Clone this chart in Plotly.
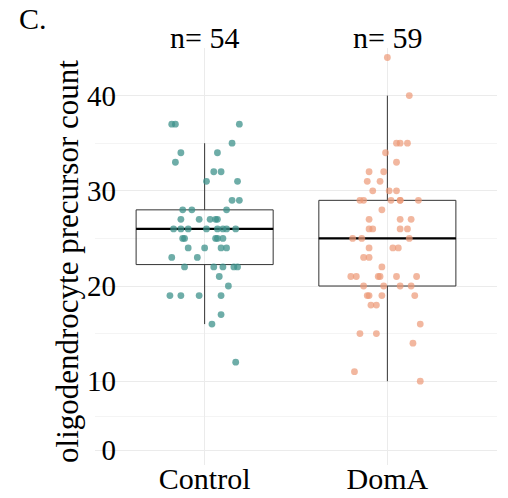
import plotly.graph_objects as go

categories = ["Control", "DomA"]
n_labels = ["n= 54", "n= 59"]

# Control: values and horizontal jitter (category units)
control_vals = [37, 37, 37, 35, 34, 34, 33, 32, 32, 31, 31, 29, 29, 28, 28, 28,
                27, 27, 27, 27, 27, 26, 26, 26, 26, 26, 26, 26, 26, 25, 25, 25, 25, 25,
                24, 24, 24, 24, 23, 23, 22, 22, 22, 22, 22, 21, 20, 19, 19, 19, 19, 17, 16, 12]
control_jit = [-0.18, -0.16, 0.19, 0.15, -0.13, 0.07, -0.16, 0.05, 0.09, 0.01, 0.18, 0.15, 0.19,
               -0.12, -0.07, 0.12, -0.13, -0.03, 0.03, 0.06, 0.07, -0.17, -0.13, -0.09, 0.01,
               0.07, 0.10, 0.12, 0.17, -0.12, -0.11, 0.07, 0.06, 0.10, -0.09, 0.00, 0.09, 0.12,
               -0.18, -0.04, -0.11, 0.05, 0.10, 0.16, 0.18, 0.08, 0.13, -0.19, -0.13, -0.03,
               0.09, 0.09, 0.04, 0.17]

domA_vals = [44, 40, 35, 35, 35, 34, 33, 32, 32, 31, 31, 30, 30, 30, 29, 29, 29, 29, 29, 29,
             28, 27, 27, 27, 26, 26, 26, 26, 25, 25, 25, 24, 24, 24, 23, 23, 22,
             21, 21, 21, 21, 21, 21, 20, 20, 20, 20, 19, 19, 19, 19, 18, 18, 16, 15, 15, 14, 11, 10]
domA_jit = [0.00, 0.12, 0.05, 0.07, 0.11, -0.01, 0.05, -0.10, -0.02, -0.11, -0.04, -0.08, 0.01,
            0.05, -0.15, -0.13, 0.02, 0.07, 0.07, 0.17, -0.03, -0.10, 0.07, 0.13, -0.10, -0.08,
            0.07, 0.11, -0.19, -0.14, 0.12, -0.10, 0.03, 0.06, -0.13, -0.10, -0.03,
            -0.20, -0.17, -0.05, -0.04, 0.05, 0.16, -0.13, -0.02, 0.07, 0.13, -0.11, -0.10,
            -0.03, 0.15, -0.09, -0.06, 0.18, -0.15, -0.06, 0.14, -0.18, 0.18]

# box statistics
q1 = [22.25, 20]
medians = [26, 25]
q3 = [28, 29]
lower_fence = [16, 10]
upper_fence = [35, 40]

point_colors = ["rgba(62,145,139,0.75)", "rgba(236,152,118,0.70)"]

# y tick positions as drawn (the bottom "0" tick sits compressed in the reference)
ytick_vals = [2.76, 10, 20, 30, 40]
ytick_text = ["0", "10", "20", "30", "40"]
yminor_vals = [6.26, 15, 25, 35, 45]

FONT = "Liberation Serif, Times New Roman, serif"
FS = 30

fig = go.Figure()

box_width = 0.75
for i in range(2):
    fig.add_trace(go.Box(
        x=[i], q1=[q1[i]], median=[medians[i]], q3=[q3[i]],
        lowerfence=[lower_fence[i]], upperfence=[upper_fence[i]],
        width=box_width, boxpoints=False,
        line=dict(color="#333333", width=1),
        fillcolor="rgba(255,255,255,0)",
        whiskerwidth=0, showlegend=False, hoverinfo="skip"))
    fig.add_trace(go.Scatter(
        x=[i - box_width / 2, i + box_width / 2], y=[medians[i], medians[i]],
        mode="lines", line=dict(color="black", width=2.2),
        showlegend=False, hoverinfo="skip"))

for i, (vals, jit) in enumerate([(control_vals, control_jit), (domA_vals, domA_jit)]):
    fig.add_trace(go.Scatter(
        x=[i + j for j in jit], y=vals, mode="markers",
        marker=dict(size=6.8, color=point_colors[i], line=dict(width=0)),
        showlegend=False))

annotations = []
for i, lab in enumerate(n_labels):
    annotations.append(dict(x=i, xref="x", y=1.024, yref="paper", text=lab,
                            showarrow=False, font=dict(family=FONT, size=FS, color="black"),
                            xanchor="center", yanchor="middle"))
annotations.append(dict(x=-0.195, xref="paper", y=1.07, yref="paper", text="C.",
                        showarrow=False, font=dict(family=FONT, size=FS, color="black"),
                        xanchor="left", yanchor="middle"))
annotations.append(dict(x=-0.067, xref="paper", y=0.487, yref="paper",
                        text="oligodendrocyte precursor count", textangle=-90,
                        showarrow=False, font=dict(family=FONT, size=31, color="black"),
                        xanchor="center", yanchor="middle"))

fig.update_layout(
    template="none",
    width=508, height=498,
    margin=dict(l=95, r=11, t=48, b=33, autoexpand=False),
    paper_bgcolor="white", plot_bgcolor="white",
    font=dict(family=FONT, size=FS, color="black"),
    annotations=annotations,
    xaxis=dict(range=[-0.6, 1.6], tickvals=[0, 1], ticktext=categories, automargin=False,
               showgrid=True, gridcolor="#ebebeb", gridwidth=1, zeroline=False,
               showline=False, ticks="", ticklabelstandoff=-7,
               tickfont=dict(family=FONT, size=FS, color="black")),
    yaxis=dict(range=[1.2, 45.0], tickvals=ytick_vals, ticktext=ytick_text, automargin=False,
               showgrid=True, gridcolor="#ebebeb", gridwidth=1, zeroline=False,
               showline=False, ticks="", ticklabelstandoff=-22,
               tickfont=dict(family=FONT, size=FS - 1, color="black"),
               minor=dict(tickvals=yminor_vals, showgrid=True, gridcolor="#f4f4f4", gridwidth=1)),
)

fig.write_html("out.html", config={"displayModeBar": False},
               post_script="document.body.style.margin='0';")
